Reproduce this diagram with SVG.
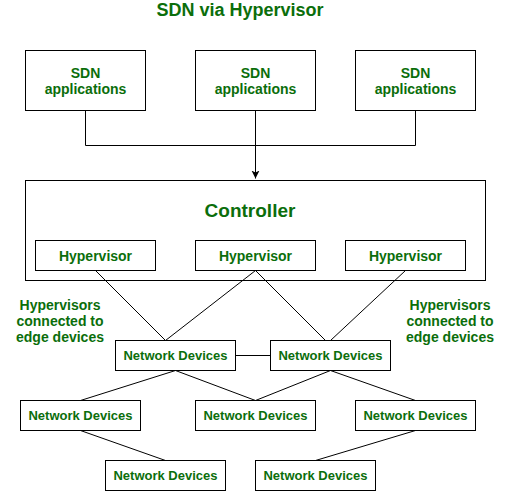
<svg xmlns="http://www.w3.org/2000/svg" width="511" height="491" viewBox="0 0 511 491">
<style>
.box{fill:#fff;stroke:#000;stroke-width:1}
.t{font-family:"Liberation Sans",Arial,sans-serif;fill:#0b6e0b;text-anchor:middle}
.b{font-weight:bold;font-size:14px}
.r{font-weight:bold;font-size:13px}
.c{fill:none;stroke:#000;stroke-width:1}
</style>
<defs>
<marker id="arr" markerWidth="10" markerHeight="10" refX="8" refY="4" orient="auto" markerUnits="userSpaceOnUse">
<path d="M0,0 L8,4 L0,8 L2,4 Z" fill="#000"/>
</marker>
</defs>
<rect width="511" height="491" fill="#fff"/>
<text id="title" class="t" x="240" y="16" font-weight="bold" font-size="18">SDN via Hypervisor</text>

<g id="controller"><rect class="box" x="25.5" y="180.5" width="460" height="100"/><text class="t" x="250" y="217" font-weight="bold" font-size="19">Controller</text></g>

<g id="connectors">
<path class="c" d="M85.5,110.5 V145.5 H415.5 V110.5"/>
<path class="c" d="M255.5,110.5 V178.5" marker-end="url(#arr)"/>
<path class="c" d="M95.5,270.5 L165.5,340.5"/>
<path class="c" d="M255.5,270.5 L165.5,340.5"/>
<path class="c" d="M255.5,270.5 L325.5,340.5"/>
<path class="c" d="M405.5,270.5 L330.5,340.5"/>
<path class="c" d="M235.5,355.5 H270.5"/>
<path class="c" d="M175.5,370.5 L80.5,400.5"/>
<path class="c" d="M175.5,370.5 L255.5,400.5"/>
<path class="c" d="M330.5,370.5 L255.5,400.5"/>
<path class="c" d="M330.5,370.5 L415.5,400.5"/>
<path class="c" d="M80.5,430.5 L165.5,460.5"/>
<path class="c" d="M415.5,430.5 L315.5,460.5"/>
</g>

<g id="app1"><rect class="box" x="25.5" y="50.5" width="120" height="60"/><text class="t b" x="85.5" y="77.5">SDN</text><text class="t b" x="85.5" y="93.5">applications</text></g>
<g id="app2"><rect class="box" x="195.5" y="50.5" width="120" height="60"/><text class="t b" x="255.5" y="77.5">SDN</text><text class="t b" x="255.5" y="93.5">applications</text></g>
<g id="app3"><rect class="box" x="355.5" y="50.5" width="120" height="60"/><text class="t b" x="415.5" y="77.5">SDN</text><text class="t b" x="415.5" y="93.5">applications</text></g>

<g id="hyp1"><rect class="box" x="35.5" y="240.5" width="120" height="30"/><text class="t b" x="95.5" y="261">Hypervisor</text></g>
<g id="hyp2"><rect class="box" x="195.5" y="240.5" width="120" height="30"/><text class="t b" x="255.5" y="261">Hypervisor</text></g>
<g id="hyp3"><rect class="box" x="345.5" y="240.5" width="120" height="30"/><text class="t b" x="405.5" y="261">Hypervisor</text></g>

<g id="labelLeft"><text class="t b" x="60" y="309.5">Hypervisors</text><text class="t b" x="60" y="325.5">connected to</text><text class="t b" x="60" y="341.5">edge devices</text></g>
<g id="labelRight"><text class="t b" x="450" y="309.5">Hypervisors</text><text class="t b" x="450" y="325.5">connected to</text><text class="t b" x="450" y="341.5">edge devices</text></g>

<g id="nd1"><rect class="box" x="115.5" y="340.5" width="120" height="30"/><text class="t r" x="175.5" y="360">Network Devices</text></g>
<g id="nd2"><rect class="box" x="270.5" y="340.5" width="120" height="30"/><text class="t r" x="330.5" y="360">Network Devices</text></g>
<g id="nd3"><rect class="box" x="20.5" y="400.5" width="120" height="30"/><text class="t r" x="80.5" y="420">Network Devices</text></g>
<g id="nd4"><rect class="box" x="195.5" y="400.5" width="120" height="30"/><text class="t r" x="255.5" y="420">Network Devices</text></g>
<g id="nd5"><rect class="box" x="355.5" y="400.5" width="120" height="30"/><text class="t r" x="415.5" y="420">Network Devices</text></g>
<g id="nd6"><rect class="box" x="105.5" y="460.5" width="120" height="30"/><text class="t r" x="165.5" y="480">Network Devices</text></g>
<g id="nd7"><rect class="box" x="255.5" y="460.5" width="120" height="30"/><text class="t r" x="315.5" y="480">Network Devices</text></g>
</svg>
